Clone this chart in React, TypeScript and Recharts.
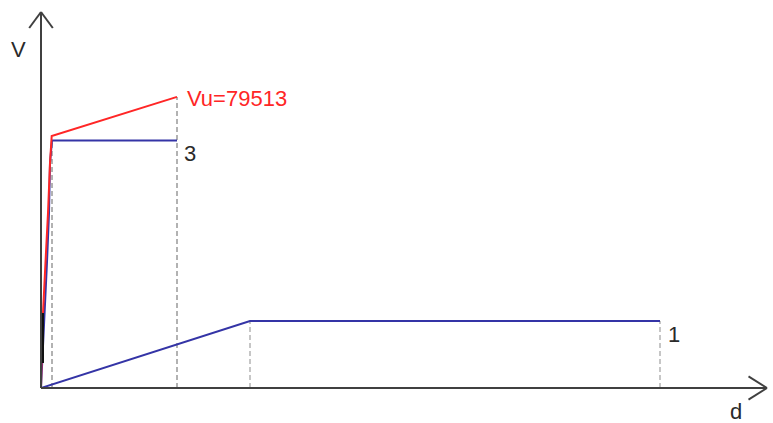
import React from "react";
import { ComposedChart, Line, XAxis, YAxis, ReferenceLine, LabelList } from "recharts";

// axis domains (d in arbitrary units, V in N)
const D_MAX = 72.6;
const V_MAX = 102700;

// curve with ultimate shear (red)
const redD = [0, 0.05, 0.2, 0.45, 0.7, 0.9, 1.07, 13.6];
const redV = [0, 6830, 20480, 34410, 47790, 61450, 68820, 79513];
// curve 2 (black, short segment)
const blackD = [0.2, 0.2];
const blackV = [6830, 20480];
// curve 3 (blue)
const c3D = [0, 0.6, 0.8, 0.9, 1.1, 13.6];
const c3V = [0, 34410, 47790, 61450, 67570, 67570];
// curve 1 (blue)
const c1D = [0, 20.9, 61.9];
const c1V = [0, 18300, 18300];
// dashed guide verticals
const guideD = [1.1, 13.6, 20.9, 61.9];
const guideV = [67570, 79513, 18300, 18300];
const guideColors = ["#999999", "#999999", "#b4b4b4", "#b4b4b4"];

const redLabel = "Vu=79513";
const c3Label = "3";
const c1Label = "1";
const xLabel = "d";
const yLabel = "V";

const toData = (ds: number[], vs: number[]) => ds.map((d, i) => ({ d, v: vs[i] }));
const redData = toData(redD, redV);
const blackData = toData(blackD, blackV);
const c3Data = toData(c3D, c3V);
const c1Data = toData(c1D, c1V);

const FONT = "'Liberation Sans', Arial, sans-serif";
const FS = 22;
const RED = "#ff2626";
const BLUE = "#3434a6";
const AXIS = "#404040";
const TXT = "#2a2a2a";

const endLabel = (text: string, last: number, color: string, dx: number, dy: number) => (p: any) => {
  if (p.index !== last) return null;
  return (
    <text x={Number(p.x) + dx} y={Number(p.y) + dy} fill={color} fontSize={FS} fontFamily={FONT}>
      {text}
    </text>
  );
};

// arrowhead sizes in data units
const AX = 1.18;
const AY = 4370;
const BX = 1.85;
const BY = 3150;

export default function App() {
  return (
    <div style={{ position: "absolute", left: 0, top: 0, background: "#fff" }}>
      <ComposedChart width={773} height={423} margin={{ top: 12, right: 6, bottom: 35, left: 41 }}>
        <XAxis type="number" dataKey="d" domain={[0, D_MAX]} hide allowDataOverflow />
        <YAxis type="number" dataKey="v" domain={[0, V_MAX]} hide allowDataOverflow />
        {guideD.map((d, i) => (
          <ReferenceLine
            key={"g" + i}
            segment={[{ x: d, y: 0 }, { x: d, y: guideV[i] }]}
            stroke={guideColors[i]}
            strokeWidth={1.5}
            strokeDasharray="5 3"
          />
        ))}
        <Line data={c1Data} dataKey="v" type="linear" stroke={BLUE} strokeWidth={2} dot={false} activeDot={false} isAnimationActive={false}>
          <LabelList dataKey="v" content={endLabel(c1Label, c1Data.length - 1, TXT, 8, 21)} />
        </Line>
        <Line data={c3Data} dataKey="v" type="linear" stroke={BLUE} strokeWidth={2} dot={false} activeDot={false} isAnimationActive={false}>
          <LabelList dataKey="v" content={endLabel(c3Label, c3Data.length - 1, TXT, 7, 20)} />
        </Line>
        <Line data={redData} dataKey="v" type="linear" stroke={RED} strokeWidth={2} dot={false} activeDot={false} isAnimationActive={false}>
          <LabelList dataKey="v" content={endLabel(redLabel, redData.length - 1, RED, 10, 9)} />
        </Line>
        <Line data={blackData} dataKey="v" type="linear" stroke="#111" strokeWidth={2} dot={false} activeDot={false} isAnimationActive={false} />
        <ReferenceLine
          x={0}
          stroke={AXIS}
          strokeWidth={2}
          label={(p: any) => (
            <text x={p.viewBox.x - 30} y={p.viewBox.y + 45} fill={TXT} fontSize={FS} fontFamily={FONT}>
              {yLabel}
            </text>
          )}
        />
        <ReferenceLine
          y={0}
          stroke={AXIS}
          strokeWidth={2}
          label={(p: any) => (
            <text x={p.viewBox.x + p.viewBox.width - 37} y={p.viewBox.y + 31} fill={TXT} fontSize={FS} fontFamily={FONT}>
              {xLabel}
            </text>
          )}
        />
        <ReferenceLine segment={[{ x: -AX, y: V_MAX - AY }, { x: 0, y: V_MAX }]} stroke={AXIS} strokeWidth={2} ifOverflow="visible" />
        <ReferenceLine segment={[{ x: AX, y: V_MAX - AY }, { x: 0, y: V_MAX }]} stroke={AXIS} strokeWidth={2} ifOverflow="visible" />
        <ReferenceLine segment={[{ x: D_MAX - BX, y: BY }, { x: D_MAX, y: 0 }]} stroke={AXIS} strokeWidth={2} ifOverflow="visible" />
        <ReferenceLine segment={[{ x: D_MAX - BX, y: -BY }, { x: D_MAX, y: 0 }]} stroke={AXIS} strokeWidth={2} ifOverflow="visible" />
      </ComposedChart>
    </div>
  );
}
